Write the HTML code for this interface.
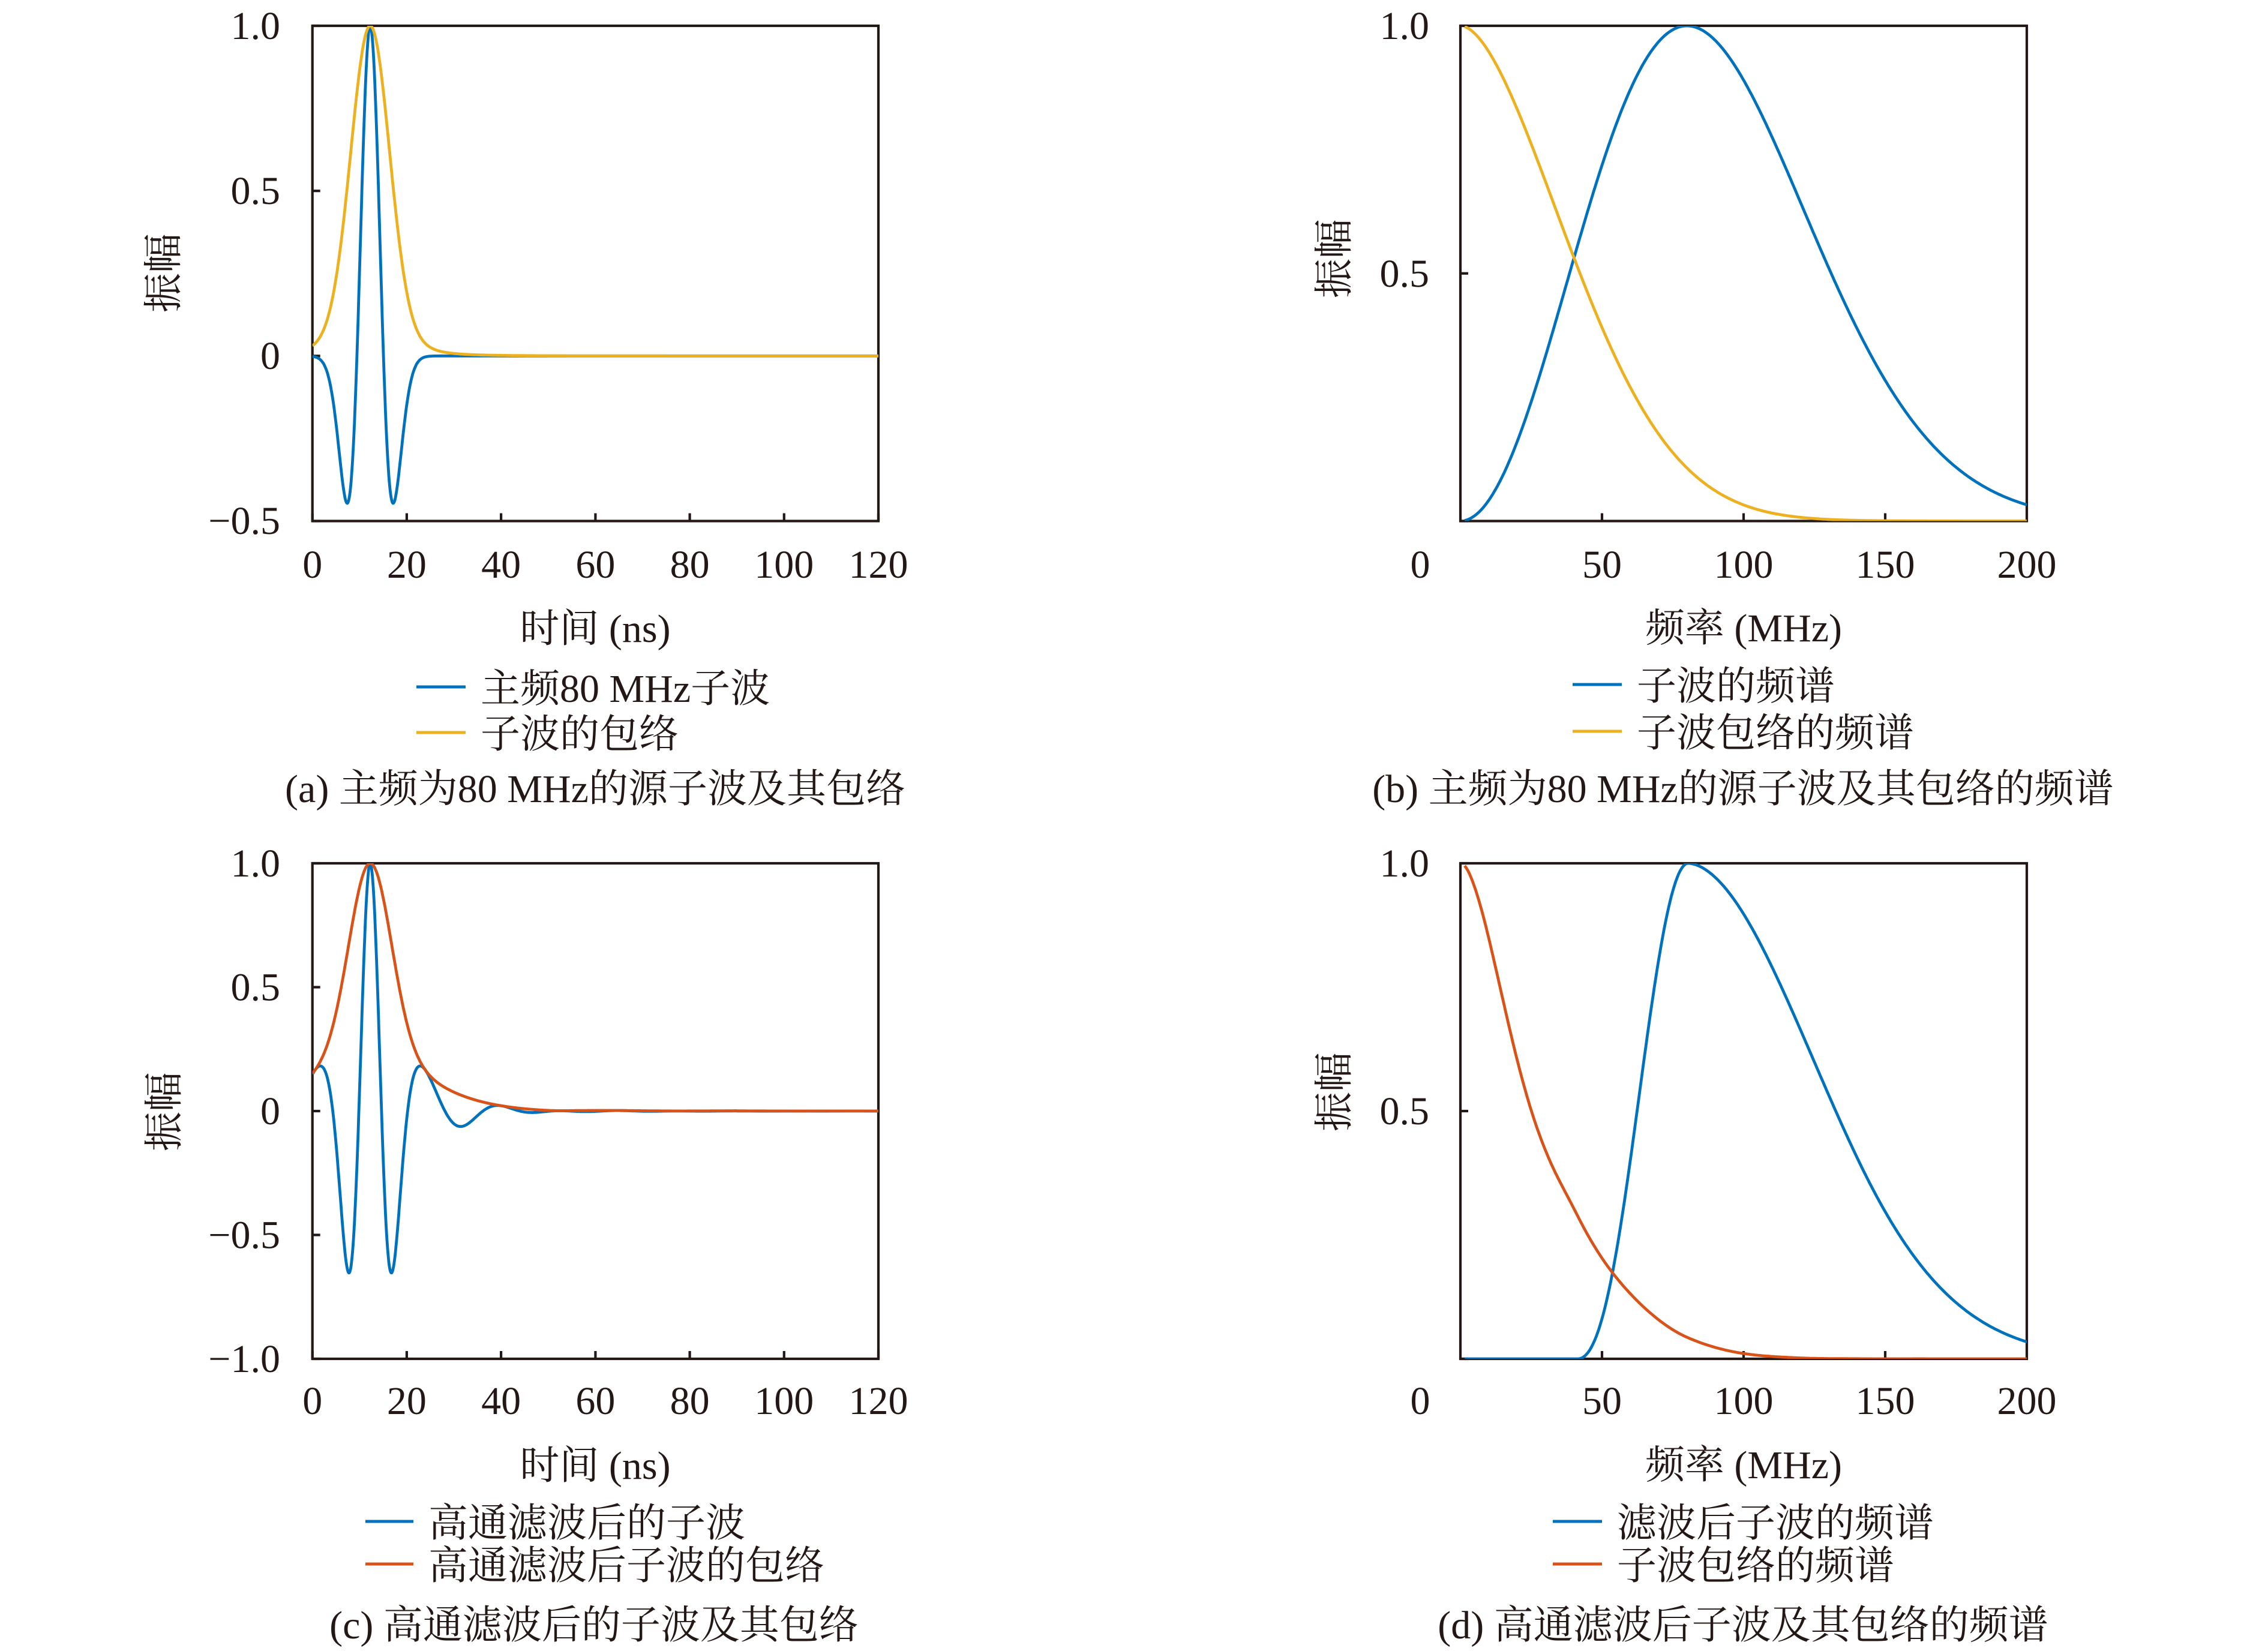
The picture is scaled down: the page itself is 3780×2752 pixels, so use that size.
<!DOCTYPE html>
<html><head><meta charset="utf-8">
<style>
html,body{margin:0;padding:0;background:#fff;}
svg{display:block;}
text{font-family:"Liberation Serif","Noto Serif CJK SC",serif;font-size:66px;fill:#231815;}
.ax{fill:none;stroke:#231815;stroke-width:4.2;}
.tk{stroke:#231815;stroke-width:4.2;}
</style></head><body>
<svg id="s" xmlns="http://www.w3.org/2000/svg" width="3780" height="2752" viewBox="0 0 3780 2752">
<rect width="3780" height="2752" fill="#fff"/>
<defs>
<clipPath id="ca"><rect x="520.7" y="43" width="943.3" height="825.5"/></clipPath>
<clipPath id="cb"><rect x="2434" y="43" width="944" height="825.5"/></clipPath>
<clipPath id="cc"><rect x="520.7" y="1439" width="943.3" height="826"/></clipPath>
<clipPath id="cd"><rect x="2434" y="1439" width="944" height="826"/></clipPath>
</defs>

<!-- Panel a -->
<rect class="ax" x="520.7" y="43" width="943.3" height="825.5"/>
<g class="tk">
<line x1="520.7" y1="43" x2="533.7" y2="43"/><line x1="520.7" y1="318.2" x2="533.7" y2="318.2"/><line x1="520.7" y1="593.3" x2="533.7" y2="593.3"/><line x1="520.7" y1="868.5" x2="533.7" y2="868.5"/>
<line x1="520.7" y1="868.5" x2="520.7" y2="855.5"/><line x1="677.9" y1="868.5" x2="677.9" y2="855.5"/><line x1="835.1" y1="868.5" x2="835.1" y2="855.5"/><line x1="992.4" y1="868.5" x2="992.4" y2="855.5"/><line x1="1149.6" y1="868.5" x2="1149.6" y2="855.5"/><line x1="1306.8" y1="868.5" x2="1306.8" y2="855.5"/><line x1="1464" y1="868.5" x2="1464" y2="855.5"/>
</g>
<g text-anchor="end">
<text x="467" y="65">1.0</text><text x="467" y="340">0.5</text><text x="467" y="615">0</text><text x="467" y="890">−0.5</text>
</g>
<g text-anchor="middle">
<text x="520.7" y="963">0</text><text x="677.9" y="963">20</text><text x="835.1" y="963">40</text><text x="992.4" y="963">60</text><text x="1149.6" y="963">80</text><text x="1306.8" y="963">100</text><text x="1464" y="963">120</text>
<text x="992" y="1070">时间 (ns)</text>
<text x="992" y="1337">(a) 主频为80 MHz的源子波及其包络</text>
</g>
<g transform="translate(270,455) rotate(-90)"><text x="0" y="25" text-anchor="middle">振幅</text></g>
<line x1="694" y1="1145" x2="776" y2="1145" stroke="#0072BD" stroke-width="5"/>
<line x1="694" y1="1221" x2="776" y2="1221" stroke="#EDB120" stroke-width="5"/>
<text x="801" y="1170">主频80 MHz子波</text>
<text x="801" y="1246">子波的包络</text>

<!-- Panel b -->
<rect class="ax" x="2434" y="43" width="944" height="825.5"/>
<g class="tk">
<line x1="2434" y1="43" x2="2447" y2="43"/><line x1="2434" y1="455.75" x2="2447" y2="455.75"/><line x1="2434" y1="868.5" x2="2447" y2="868.5"/>
<line x1="2670" y1="868.5" x2="2670" y2="855.5"/><line x1="2906" y1="868.5" x2="2906" y2="855.5"/><line x1="3142" y1="868.5" x2="3142" y2="855.5"/>
</g>
<g text-anchor="end">
<text x="2382" y="65">1.0</text><text x="2382" y="478">0.5</text>
</g>
<g text-anchor="middle">
<text x="2367" y="963">0</text><text x="2670" y="963">50</text><text x="2906" y="963">100</text><text x="3142" y="963">150</text><text x="3378" y="963">200</text>
<text x="2906" y="1069">频率 (MHz)</text>
<text x="2905" y="1337">(b) 主频为80 MHz的源子波及其包络的频谱</text>
</g>
<g transform="translate(2221,431) rotate(-90)"><text x="0" y="25" text-anchor="middle">振幅</text></g>
<line x1="2621" y1="1141" x2="2703" y2="1141" stroke="#0072BD" stroke-width="5"/>
<line x1="2621" y1="1219" x2="2703" y2="1219" stroke="#EDB120" stroke-width="5"/>
<text x="2728" y="1166">子波的频谱</text>
<text x="2728" y="1244">子波包络的频谱</text>

<!-- Panel c -->
<rect class="ax" x="520.7" y="1439" width="943.3" height="826"/>
<g class="tk">
<line x1="520.7" y1="1439" x2="533.7" y2="1439"/><line x1="520.7" y1="1645.5" x2="533.7" y2="1645.5"/><line x1="520.7" y1="1852" x2="533.7" y2="1852"/><line x1="520.7" y1="2058.5" x2="533.7" y2="2058.5"/><line x1="520.7" y1="2265" x2="533.7" y2="2265"/>
<line x1="520.7" y1="2265" x2="520.7" y2="2252"/><line x1="677.9" y1="2265" x2="677.9" y2="2252"/><line x1="835.1" y1="2265" x2="835.1" y2="2252"/><line x1="992.4" y1="2265" x2="992.4" y2="2252"/><line x1="1149.6" y1="2265" x2="1149.6" y2="2252"/><line x1="1306.8" y1="2265" x2="1306.8" y2="2252"/><line x1="1464" y1="2265" x2="1464" y2="2252"/>
</g>
<g text-anchor="end">
<text x="467" y="1461">1.0</text><text x="467" y="1667.5">0.5</text><text x="467" y="1874">0</text><text x="467" y="2080.5">−0.5</text><text x="467" y="2287">−1.0</text>
</g>
<g text-anchor="middle">
<text x="520.7" y="2357">0</text><text x="677.9" y="2357">20</text><text x="835.1" y="2357">40</text><text x="992.4" y="2357">60</text><text x="1149.6" y="2357">80</text><text x="1306.8" y="2357">100</text><text x="1464" y="2357">120</text>
<text x="992" y="2465">时间 (ns)</text>
<text x="990" y="2731">(c) 高通滤波后的子波及其包络</text>
</g>
<g transform="translate(271,1853) rotate(-90)"><text x="0" y="25" text-anchor="middle">振幅</text></g>
<line x1="609" y1="2536" x2="689" y2="2536" stroke="#0072BD" stroke-width="5"/>
<line x1="609" y1="2607" x2="689" y2="2607" stroke="#D95319" stroke-width="5"/>
<text x="714" y="2561">高通滤波后的子波</text>
<text x="714" y="2632">高通滤波后子波的包络</text>

<!-- Panel d -->
<rect class="ax" x="2434" y="1439" width="944" height="826"/>
<g class="tk">
<line x1="2434" y1="1439" x2="2447" y2="1439"/><line x1="2434" y1="1852" x2="2447" y2="1852"/><line x1="2434" y1="2265" x2="2447" y2="2265"/>
<line x1="2670" y1="2265" x2="2670" y2="2252"/><line x1="2906" y1="2265" x2="2906" y2="2252"/><line x1="3142" y1="2265" x2="3142" y2="2252"/>
</g>
<g text-anchor="end">
<text x="2382" y="1461">1.0</text><text x="2382" y="1874">0.5</text>
</g>
<g text-anchor="middle">
<text x="2367" y="2357">0</text><text x="2670" y="2357">50</text><text x="2906" y="2357">100</text><text x="3142" y="2357">150</text><text x="3378" y="2357">200</text>
<text x="2906" y="2464">频率 (MHz)</text>
<text x="2905" y="2731">(d) 高通滤波后子波及其包络的频谱</text>
</g>
<g transform="translate(2221,1820) rotate(-90)"><text x="0" y="25" text-anchor="middle">振幅</text></g>
<line x1="2588" y1="2536" x2="2670" y2="2536" stroke="#0072BD" stroke-width="5"/>
<line x1="2588" y1="2607" x2="2670" y2="2607" stroke="#D95319" stroke-width="5"/>
<text x="2695" y="2561">滤波后子波的频谱</text>
<text x="2695" y="2632">子波包络的频谱</text>

<g id="curves"></g>
</svg>
<script>
(function(){
var NS='http://www.w3.org/2000/svg';
var G=document.getElementById('curves');
function addPath(pts,color,clip){
  var d='';
  for(var i=0;i<pts.length;i++){d+=(i?'L':'M')+pts[i][0].toFixed(1)+' '+pts[i][1].toFixed(1);}
  var p=document.createElementNS(NS,'path');
  p.setAttribute('d',d);p.setAttribute('fill','none');p.setAttribute('stroke',color);
  p.setAttribute('stroke-width','4.8');p.setAttribute('stroke-linejoin','round');
  p.setAttribute('clip-path','url(#'+clip+')');
  G.appendChild(p);
}
var fp=80,t0=12.25;
function S(f){var r=f/fp;return r*r*Math.exp(1-r*r);}
var fa=41.5,fb=80.5;
function smooth(x,a,b){if(x<=a)return 0;if(x>=b)return 1;var t=(x-a)/(b-a);return t*t*(3-2*t);}
function H(f){
  var h;
  if(f<=fa)h=0;else if(f>=fb)h=1;else h=0.5*(1-Math.cos(Math.PI*(f-fa)/(fb-fa)));
  return h*(1+0.045*smooth(f,85,140));
}
function F(f){return S(f)*H(f);}
var df=0.25,NF=1601;
function spec(fn){var A=new Float64Array(NF);for(var k=0;k<NF;k++){A[k]=fn(k*df)*df*((k===0||k===NF-1)?0.5:1);}return A;}
var dtau=0.05,NT=3401,tau0=-20;
function timeDomain(A){
  var w=new Float64Array(NT),e=new Float64Array(NT),R0=0,k;
  for(k=0;k<NF;k++)R0+=A[k];
  for(var j=0;j<NT;j++){
    var tau=tau0+j*dtau,ph=2*Math.PI*df*tau/1000,cd=Math.cos(ph),sd=Math.sin(ph);
    var c=1,s=0,re=0,im=0;
    for(k=0;k<NF;k++){re+=A[k]*c;im+=A[k]*s;var c2=c*cd-s*sd;s=s*cd+c*sd;c=c2;}
    w[j]=re/R0;e[j]=Math.sqrt(re*re+im*im)/R0;
  }
  return {w:w,e:e};
}
function envSpec(e){
  var j0=Math.round(-tau0/dtau),out=[];
  for(var i=0;i<=400;i++){
    var f=i*0.5,sum=e[j0];
    for(var j=j0+1;j<NT;j++){sum+=2*e[j]*Math.cos(2*Math.PI*f*(j-j0)*dtau/1000);}
    out.push(sum);
  }
  var n0=out[0];return out.map(function(v){return v/n0;});
}
var TA=timeDomain(spec(S)),TC=timeDomain(spec(F));
var EA=envSpec(TA.e),EC=envSpec(TC.e);
function XT(t){return 520.7+t*943.3/120;}
function XF(f){return 2434+f*944/200;}
var js=Math.round((-t0-tau0)/dtau),je=Math.round((120-t0-tau0)/dtau);
function tdPts(arr,Yf){var p=[];for(var j=js;j<=je;j+=2){var t=tau0+j*dtau+t0;p.push([XT(t),Yf(arr[j])]);}return p;}
var Ya=function(v){return 43+(1-v)*550.33;};
var Yc=function(v){return 1439+(1-v)*413;};
addPath(tdPts(TA.w,Ya),'#0072BD','ca');
addPath(tdPts(TA.e,Ya),'#EDB120','ca');
addPath(tdPts(TC.w,Yc),'#0072BD','cc');
addPath(tdPts(TC.e,Yc),'#D95319','cc');
var Yb=function(v){return 868.5-v*825.5;};
var Yd=function(v){return 2265-v*826;};
var p1=[],p2=[],p3=[],p4=[],i,f,Fmax=0;
for(i=3;i<=400;i++){f=i*0.5;if(F(f)>Fmax)Fmax=F(f);}
for(i=3;i<=400;i++){
  f=i*0.5;
  p1.push([XF(f),Yb(S(f))]);
  p2.push([XF(f),Yb(EA[i])]);
  p3.push([XF(f),Yd(F(f)/Fmax)]);
  p4.push([XF(f),Yd(EC[i])]);
}
addPath(p1,'#0072BD','cb');
addPath(p2,'#EDB120','cb');
addPath(p3,'#0072BD','cd');
addPath(p4,'#D95319','cd');
})();
</script>
</body></html>
